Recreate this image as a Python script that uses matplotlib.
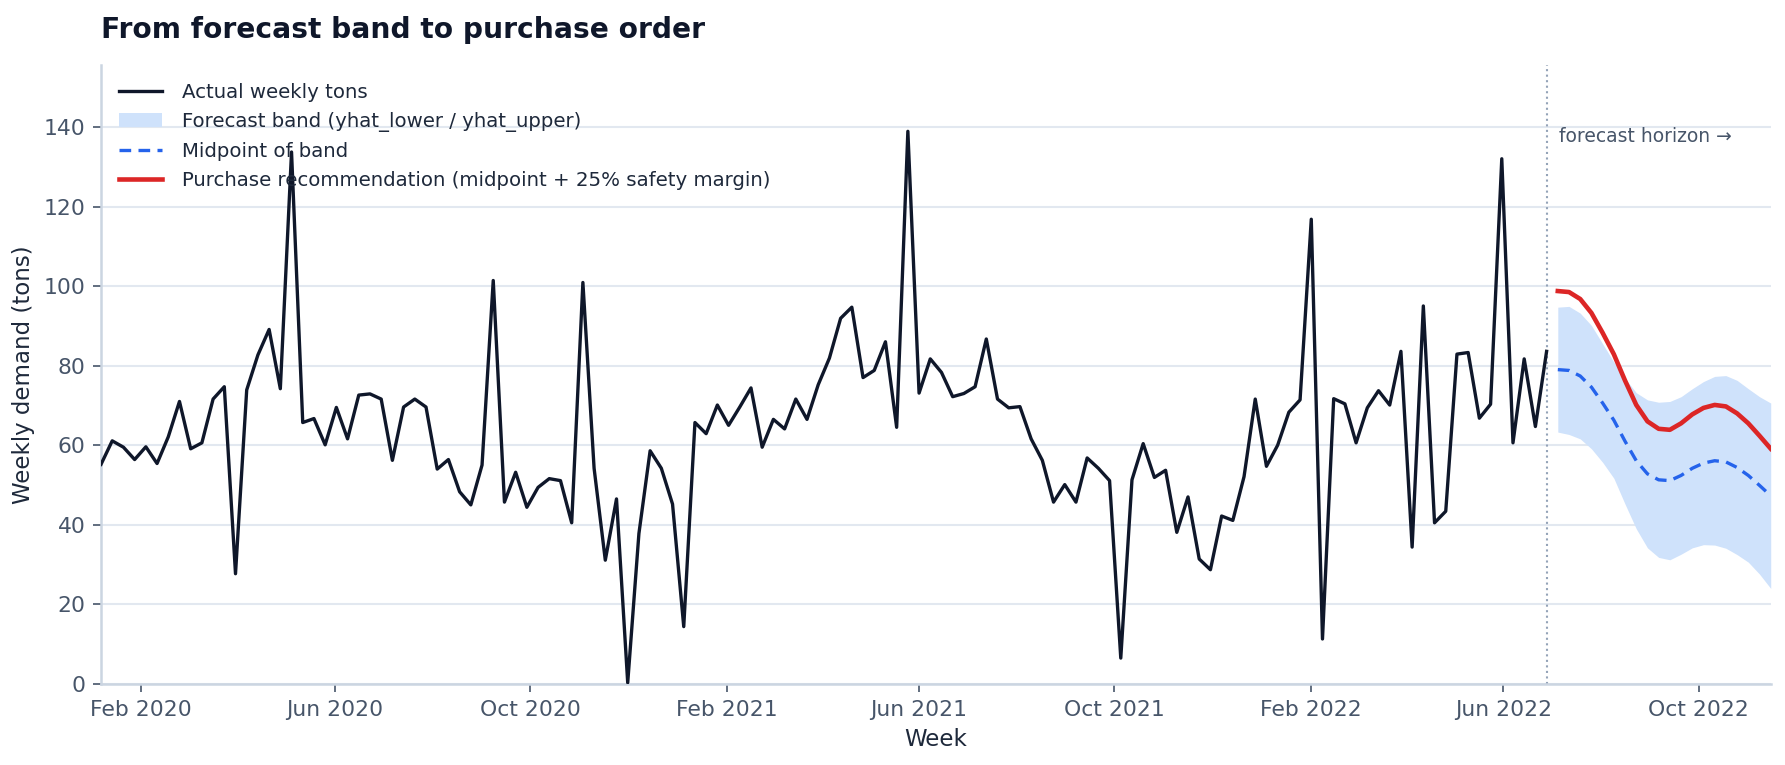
import matplotlib.pyplot as plt
import matplotlib.dates as mdates
import numpy as np
import pandas as pd

# weekly actuals (tons)
actual = [
    55.2, 61.1, 59.5, 56.4, 59.6, 55.4, 62.1, 71.0, 59.1, 60.6,
    71.6, 74.7, 27.7, 73.9, 82.7, 89.1, 74.2, 133.7, 65.7, 66.7,
    60.1, 69.5, 61.6, 72.6, 72.9, 71.6, 56.2, 69.6, 71.6, 69.6,
    54.0, 56.4, 48.3, 45.0, 55.0, 101.4, 45.7, 53.2, 44.4, 49.4,
    51.6, 51.1, 40.5, 100.9, 54.2, 31.1, 46.5, 0.3, 37.8, 58.6,
    54.2, 45.2, 14.4, 65.7, 62.9, 70.1, 65.0, 69.6, 74.4, 59.5,
    66.5, 64.1, 71.6, 66.5, 75.2, 81.9, 91.9, 94.7, 77.0, 78.8,
    86.0, 64.5, 138.9, 73.1, 81.7, 78.3, 72.2, 73.0, 74.7, 86.7,
    71.6, 69.4, 69.7, 61.6, 56.2, 45.7, 50.1, 45.7, 56.8, 54.2,
    51.1, 6.5, 51.3, 60.4, 51.9, 53.7, 38.1, 47.0, 31.4, 28.7,
    42.2, 41.1, 52.1, 71.6, 54.7, 60.0, 68.3, 71.4, 116.8, 11.3,
    71.7, 70.4, 60.6, 69.4, 73.7, 70.1, 83.6, 34.4, 95.0, 40.5,
    43.4, 82.9, 83.3, 66.8, 70.3, 132.0, 60.6, 81.7, 64.7, 83.6,
]

# forecast band (yhat_lower / yhat_upper)
yhat_upper = [
    94.7, 94.9, 93.2, 90.1, 85.5, 80.9, 76.8, 73.2, 71.4, 70.8,
    71.0, 72.2, 74.2, 76.0, 77.3, 77.5, 76.3, 74.2, 72.2, 70.6,
]
yhat_lower = [
    63.3, 62.7, 61.6, 59.1, 55.7, 51.7, 45.2, 39.0, 34.2, 31.8,
    31.2, 32.6, 34.2, 35.0, 34.9, 34.1, 32.5, 30.6, 27.6, 24.0,
]
safety_margin = 0.25

weeks = pd.date_range("2020-01-07", periods=len(actual), freq="7D")
fc_weeks = pd.date_range(weeks[-1] + pd.Timedelta(days=7), periods=len(yhat_upper), freq="7D")

lo = np.array(yhat_lower)
hi = np.array(yhat_upper)
mid = (lo + hi) / 2
rec = mid * (1 + safety_margin)

plt.rcParams['font.family'] = ['DejaVu Sans']

fig = plt.figure(figsize=(11.9, 5.1), dpi=150)
ax = fig.add_axes([0.0566, 0.106, 0.9354, 0.809])

ax.plot(weeks, actual, color="#0f172a", lw=1.6, label="Actual weekly tons", zorder=3)
ax.fill_between(fc_weeks, lo, hi, color="#cfe2fb", lw=0, label="Forecast band (yhat_lower / yhat_upper)", zorder=1)
ax.plot(fc_weeks, mid, color="#2563eb", lw=1.6, ls=(0, (3.5, 2.2)), label="Midpoint of band", zorder=3)
ax.plot(fc_weeks, rec, color="#dc2626", lw=2.2, label="Purchase recommendation (midpoint + 25% safety margin)", zorder=4)

ymax = max(actual) * 1.12
ax.axvline(weeks[-1], color="#94a3b8", lw=1, ls=":", zorder=2)
ax.text(weeks[-1] + pd.Timedelta(days=8), 140, "forecast horizon \u2192", color="#475569",
        fontsize=9, va="top", ha="left")

ax.set_xlim(weeks[0], fc_weeks[-1])
ax.set_ylim(0, ymax)
ax.set_yticks(range(0, 141, 20))
ax.xaxis.set_major_locator(mdates.MonthLocator(bymonth=[2, 6, 10]))
ax.xaxis.set_major_formatter(mdates.DateFormatter("%b %Y"))

ax.grid(axis="y", color="#e2e8f0", lw=1)
ax.set_axisbelow(True)
for s in ["top", "right"]:
    ax.spines[s].set_visible(False)
for s in ["left", "bottom"]:
    ax.spines[s].set_color("#cbd5e1")
    ax.spines[s].set_linewidth(1.2)
ax.tick_params(colors="#475569", labelsize=10.5, length=4)

ax.set_xlabel("Week", fontsize=11, color="#1e293b")
ax.set_ylabel("Weekly demand (tons)", fontsize=11, color="#1e293b")
ax.set_title("From forecast band to purchase order", loc="left", fontsize=13.5, fontweight="bold",
             color="#0f172a", pad=13)

ax.legend(loc="upper left", frameon=False, fontsize=9.5, labelcolor="#1e293b",
          handlelength=2.2, handletextpad=1.0)

fig.savefig("out.png", dpi=150)
